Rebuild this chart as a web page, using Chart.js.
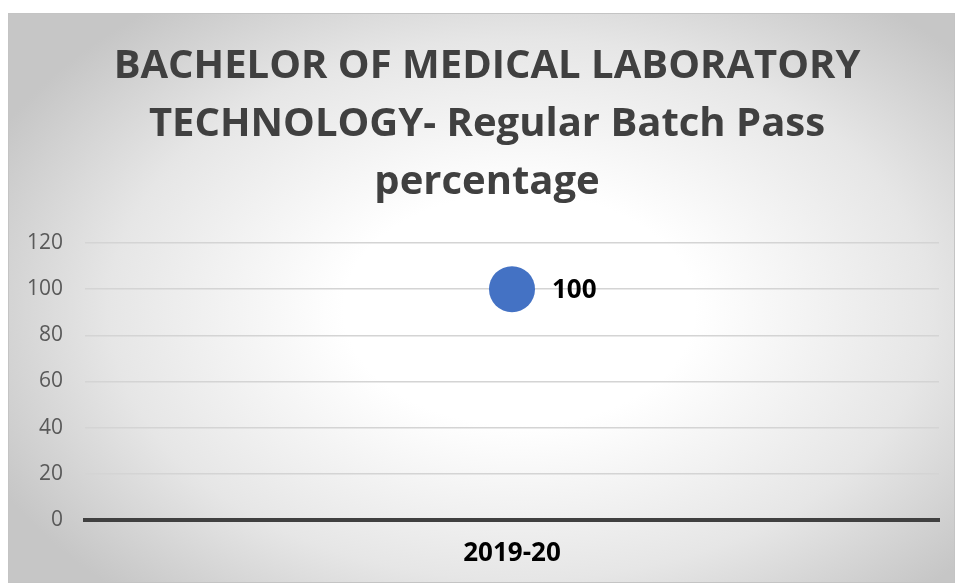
<!DOCTYPE html>
<html>
<head>
<meta charset="utf-8">
<script src="https://cdn.jsdelivr.net/npm/chart.js@4"></script>
<style>
    html, body { margin: 0; padding: 0; background: #ffffff; }
    #wrap {
        position: absolute;
        left: 8px;
        top: 13px;
        width: 947px;
        height: 570px;
        box-sizing: border-box;
        border: 1px solid #c4c4c4;
        background: radial-gradient(ellipse 62% 68% at 54% 52%, #ffffff 30%, #e6e6e6 70%, #c6c6c6 100%);
    }
    canvas { display: block; }
</style>
</head>
<body>
<div id="wrap"><canvas id="chart" width="945" height="568"></canvas></div>
<script>
const titleLines = ['BACHELOR OF MEDICAL LABORATORY', 'TECHNOLOGY- Regular Batch Pass', 'percentage'];
const categories = ['2019-20'];
const passValues = [100];
const yTicks = [0, 20, 40, 60, 80, 100, 120];

// draws the value right of each point
const valueLabels = {
    id: 'valueLabels',
    afterDatasetsDraw(chart) {
        const ctx = chart.ctx;
        const meta = chart.getDatasetMeta(0);
        ctx.save();
        ctx.font = 'bold 26px "Open Sans"';
        ctx.fillStyle = '#000000';
        ctx.textAlign = 'left';
        ctx.textBaseline = 'middle';
        meta.data.forEach((pt, i) => {
            ctx.fillText(String(passValues[i]), pt.x + 40, pt.y + 1);
        });
        ctx.restore();
    }
};

new Chart(document.getElementById('chart'), {
    type: 'line',
    data: {
        labels: categories,
        datasets: [{
            label: 'Pass percentage',
            data: passValues,
            showLine: false,
            clip: false,
            pointRadius: 23,
            pointHoverRadius: 23,
            pointBackgroundColor: '#4472C4',
            pointBorderColor: '#4472C4',
            pointBorderWidth: 0
        }]
    },
    options: {
        responsive: false,
        animation: false,
        layout: { autoPadding: false, padding: { left: 16, right: 5, top: 0, bottom: -5 } },
        plugins: {
            legend: { display: false },
            tooltip: { enabled: false },
            title: {
                display: true,
                text: titleLines,
                color: '#404040',
                font: { family: '"Open Sans"', size: 40, weight: 'bold', lineHeight: 1.45 },
                padding: { top: 24, bottom: 31 }
            }
        },
        scales: {
            x: {
                offset: true,
                grid: { display: false, drawTicks: false },
                border: { display: true, color: '#404040', width: 4 },
                ticks: {
                    color: '#000000',
                    font: { family: '"Open Sans"', size: 26, weight: 'bold' },
                    padding: 18
                }
            },
            y: {
                min: 0,
                max: 120,
                afterFit(scale) { scale.width = 60; },
                afterBuildTicks(scale) { scale.ticks = yTicks.map(v => ({ value: v })); },
                grid: {
                    drawTicks: false,
                    color: ctx => ctx.tick && ctx.tick.value === 0 ? 'rgba(0,0,0,0)' : '#d4d4d4',
                    lineWidth: 1.5
                },
                border: { display: false },
                ticks: {
                    color: '#595959',
                    font: { family: '"Open Sans"', size: 21 },
                    padding: 22
                }
            },
            // empty strip on the right so the plot stops short of the frame
            yRight: {
                position: 'right',
                afterFit(scale) { scale.width = 10; },
                grid: { display: false, drawTicks: false },
                border: { display: false },
                ticks: { display: false }
            }
        }
    },
    plugins: [valueLabels]
});
</script>
</body>
</html>
